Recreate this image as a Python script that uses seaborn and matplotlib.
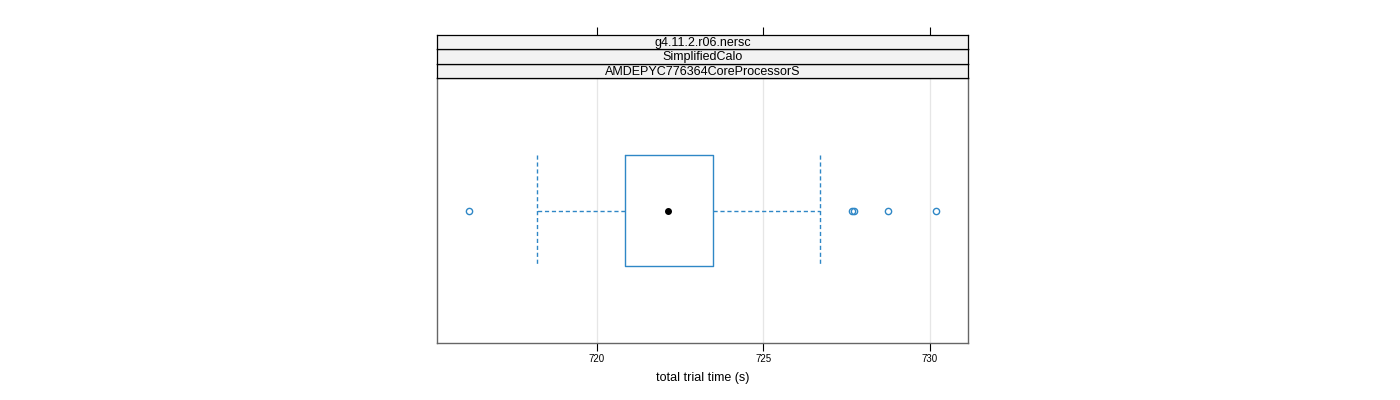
import numpy as np
import pandas as pd
import matplotlib
matplotlib.use("Agg")
import matplotlib.pyplot as plt
import seaborn as sns

# ---- data ----
strip_labels = ["g4.11.2.r06.nersc", "SimplifiedCalo", "AMDEPYC776364CoreProcessorS"]
trial_times = [716.16, 718.20, 719.60, 720.30, 720.60, 720.84, 721.20, 721.50, 721.80, 722.00,
               722.13, 722.40, 722.70, 723.00, 723.30, 723.48, 726.70, 727.66, 727.72, 728.74, 730.18]
x_ticks = [720, 725, 730]
x_label = "total trial time (s)"

blue = "#2f87c6"
frame = "#666666"

sns.set_theme(style="white")
plt.rcParams['font.family'] = ['Liberation Sans', 'DejaVu Sans']
plt.rcParams['text.color'] = 'black'
plt.rcParams['axes.labelcolor'] = 'black'
plt.rcParams['xtick.color'] = 'black'

df = pd.DataFrame({"time": trial_times, "grp": ["a"] * len(trial_times)})

fig = plt.figure(figsize=(14, 4), dpi=100)
L, R = 437 / 1400, 968 / 1400
B, T = 1 - 343 / 400, 1 - 78 / 400
ax = fig.add_axes([L, B, R - L, T - B])

for v in x_ticks:
    ax.axvline(v, color="#e6e6e6", lw=0.9, zorder=0)

sns.boxplot(data=df, x="time", y="grp", ax=ax, width=0.5, whis=1.5,
            fill=False, color=blue, linewidth=1.0,
            capwidths=0.5,
            boxprops=dict(color=blue, lw=1.0),
            whiskerprops=dict(color=blue, lw=1.0, ls=(0, (3, 2))),
            capprops=dict(color=blue, lw=1.0, ls=(0, (3, 2))),
            medianprops=dict(visible=False),
            flierprops=dict(marker="o", markersize=4.5, markerfacecolor="none",
                            markeredgecolor=blue, markeredgewidth=1.0))
ax.plot([np.median(trial_times)], [0], "o", color="black", ms=4, zorder=5)

ax.set_ylim(0.6, -0.6)
ax.set_xlim(715.2, 731.15)
ax.set_yticks([])
ax.set_ylabel("")
ax.set_xticks(x_ticks)
ax.set_xticklabels([str(v) for v in x_ticks], fontsize=7)
ax.tick_params(axis="x", direction="out", length=6, width=0.8, color="black",
               labelcolor="black", bottom=True, top=False, pad=2)
ax.set_xlabel(x_label, fontsize=9, labelpad=6, color="black")
for s in ax.spines.values():
    s.set_color(frame)
    s.set_linewidth(1.0)

# strips
strip_h = 14.4 / 400
for i, lab in enumerate(reversed(strip_labels)):
    sax = fig.add_axes([L, T + i * strip_h, R - L, strip_h])
    sax.set_facecolor("#f2f2f2")
    sax.set_xticks([]); sax.set_yticks([])
    for s in sax.spines.values():
        s.set_color("black"); s.set_linewidth(0.9)
    sax.text(0.5, 0.45, lab, ha="center", va="center", fontsize=9, color="black",
             transform=sax.transAxes)

# top ticks above strips
tax = fig.add_axes([L, T + 3 * strip_h, R - L, 0.0001])
tax.set_xlim(ax.get_xlim())
tax.set_xticks(x_ticks)
tax.tick_params(axis="x", direction="out", length=6, width=0.8, color="black",
                bottom=False, top=True, labeltop=False, labelbottom=False)
tax.set_yticks([])
for s in tax.spines.values():
    s.set_visible(False)
tax.patch.set_visible(False)

fig.savefig("out.png", dpi=100)
